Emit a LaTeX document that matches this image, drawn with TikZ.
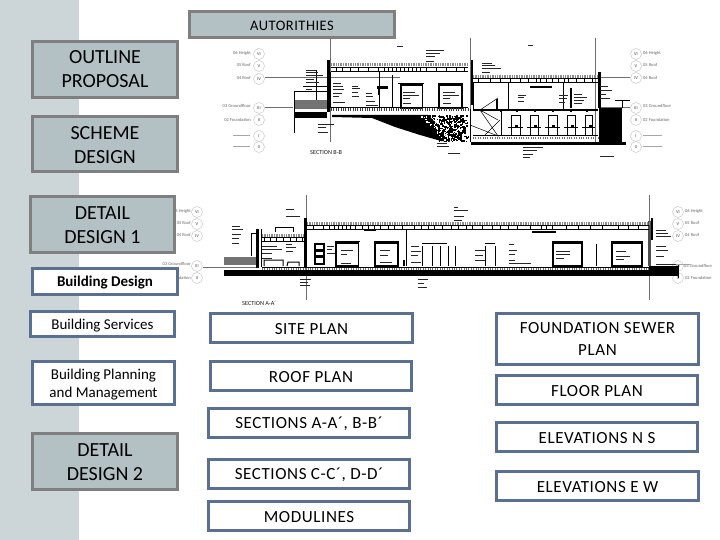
\documentclass[tikz,border=0pt]{standalone}
\usepackage{fontspec}
\setmainfont{Carlito}
\newfontfamily\widefont[LetterSpace=3.5]{Carlito}
\newcommand{\dn}[2][1]{\raisebox{-#1pt}[\height][\depth]{#2}}
\definecolor{strip}{HTML}{CCD5D8}
\definecolor{boxfill}{HTML}{B3C0C4}
\definecolor{boxgray}{HTML}{7F7F7F}
\definecolor{boxblue}{HTML}{5A7090}
\definecolor{axisgray}{HTML}{6E6E6E}
\tikzset{
  graybox/.style={draw=boxgray,line width=3pt,fill=boxfill,align=center,inner sep=0pt,text=black},
  bluebox/.style={draw=boxblue,line width=3pt,fill=white,align=center,inner sep=0pt,text=black},
  big/.style={font=\fontsize{20}{24}\selectfont},
  mid/.style={font=\widefont\fontsize{17}{22}\selectfont},
  small/.style={font=\fontsize{15}{18}\selectfont},
  axis/.style={draw=axisgray,line width=1pt},
  wall/.style={draw=black,line width=1pt},
  thin/.style={draw=black,line width=.5pt},
  note/.style={draw=black!85,line width=.9pt},
  faint/.style={draw=black!35,line width=.5pt},
  bubble/.style={circle,draw=black!22,line width=.5pt,minimum size=11pt,inner sep=0pt,font=\fontsize{4.5}{5}\selectfont,text=black!70},
  tiny/.style={font=\fontsize{4.5}{5}\selectfont,text=black!60,inner sep=0pt,align=center},
  roofhatch/.style={draw=black!45,line width=3pt,dash pattern=on 1pt off .7pt},
  floorhatch/.style={draw=black!75,line width=3pt,dash pattern=on 1pt off 1.4pt},
  secttitle/.style={font=\fontsize{6.2}{7}\selectfont,text=black!90,inner sep=0pt},
}
\begin{document}
\begin{tikzpicture}[x=1pt,y=-1pt]
\useasboundingbox (0,0) rectangle (720,540);
\fill[strip] (0,0) rectangle (79,540);

% ---------- SECTION B-B ----------
\foreach \x/\y/\r in {259/54/VI,259/66/V,259/79/IV,259/108/III,259/120/II,259/136/I,259/147/0,
  636/54/VI,636/66/V,636/78/IV,636/108/III,636/120/II,636/136/I,636/147/0}
  \node[bubble] (b\x\r) at (\x,\y) {\r};
\foreach \y/\t in {53/06 Height,65/05 Roof,78/04 Roof,106/03 Groundfloor,120/02 Foundation}{
  \node[tiny,anchor=east] at (251,\y) {\t};
  \node[tiny,anchor=west] at (643,\y) {\t};}
\foreach \y in {135,146}{
  \draw[faint,line width=.8pt] (233,\y)--(250,\y);
  \draw[faint,line width=.8pt] (643,\y)--(662,\y);}
\draw[axis] (265,78)--(400,78);
\draw[axis] (265,108)--(293,108);
\draw[axis] (598,108)--(630,108);
\draw[axis] (630,78)--(598,78);
\draw[axis] (330,38)--(330,142);
\draw[axis] (470,38)--(470,142);
\draw[axis] (595,38)--(595,142);
% left ground
\fill[black!55] (294,100) rectangle (327,109);
\fill[black] (294,112) rectangle (327,118);
\draw[wall] (294,91)--(294,133);
\draw[thin] (316,70)--(316,100) (303,86)--(327,86) (295,91)--(327,91);
\fill[black] (327,60) rectangle (329.5,112);
% left roof
\draw[roofhatch] (331,65)--(468,65);
\draw[wall] (331,67.5)--(468,67.5) (331,72)--(468,72);
\foreach \x in {336,342,350,358,368,378,384,388,392,396,400,404,408,412,416,420,426,436,446,456,464}
  \draw[wall] (\x,67)--(\x,72);
\draw[thin] (330,72)--(330,108) (379,72)--(379,108) (392,75)--(392,108);
% rooms upper left
\draw[wall,line width=1.2pt] (401,85) rectangle (422.5,108) (439,85) rectangle (462,108);
\draw[thin] (398,83)--(424,83) (438,83)--(463,83);
\draw[wall,line width=2pt] (379,86)--(379,95);
\fill[black] (377,86) rectangle (388,89);
% left floor
\draw[floorhatch] (331,110)--(468,110);
\draw[wall] (331,108)--(468,108);
% wedge and speckle
\fill[black] (332,115)--(428,115)--(433,120)--(440,128)--(450,142)--(441,141)--(420,135)--(395,127)--(372,118)--(332,117)--cycle;
\pgfmathsetseed{7}
\foreach \i in {1,...,420}{
  \pgfmathsetmacro{\py}{115+rnd*26}
  \pgfmathsetmacro{\px}{428+(\py-115)*.6+rnd*(40-(\py-115)*.6)-rnd*6}
  \fill[black] (\px,\py) rectangle +(1.5,1.5);}
\foreach \i in {1,...,60}{
  \pgfmathsetmacro{\py}{115+rnd*27}
  \pgfmathsetmacro{\px}{420+(\py-115)*.9+rnd*16}
  \fill[white] (\px,\py) rectangle +(1.3,1.3);}
\draw[wall] (470,109)--(470,142);
% right part
\fill[black] (470.5,60) rectangle (473,105);
\draw[roofhatch] (473,77)--(598,77);
\draw[wall] (473,79)--(598,79) (473,83)--(598,83);
\foreach \x in {478,490,500,510,520,528,536,540,546,552,558,564,568,576,584,592}
  \draw[wall] (\x,79)--(\x,83);
\draw[thin] (473,83)--(473,110) (508,83)--(508,109) (563,83)--(563,109);
\draw[wall,line width=2pt] (571,88)--(571,108) (497,99)--(497,110);
\fill[black] (530,86) rectangle (552,88);
\fill[black] (598,72) rectangle (600.5,108);
\draw[wall,line width=1.4pt] (473,110)--(598,110);
\foreach \x in {500,516,534,552,570,586}
  \fill[black] (\x,110) rectangle +(2,2);
\draw[thin] (480,110)--(498,98) (480,110)--(498,120) (480,110)--(498,136)--(470,125) (485,135)--(500,120);
% lower rooms
\foreach \a/\b in {511/520,530/538,548/557,567/575,585/592}{
  \draw[wall] (\a,116)--(\a,136)--(\b,136)--(\b,116)--cycle;
  \draw[thin] (\a-3,127)--(\b+3,127);
  \fill[black] (\a+4,125) rectangle +(3,3);}
\draw[thin] (501,112)--(501,136);
\draw[floorhatch,draw=black!55,line width=2pt] (473,138)--(598,138);
\draw[wall,line width=1pt] (473,136)--(598,136);
\fill[black] (471,142) rectangle (626,145.5);
\fill[black] (599,108) rectangle (622,145.5);
\draw[thin] (622,100)--(622,108) (615,100)--(630,100);
% annotation strokes, section B
\foreach \x/\y/\w in {
 306/70/10,306/72/12,306/75/17,306/79/8,306/82/13,306/89/6,
 333/83/8,333/86/10,333/89/11,333/93/9,333/96/6,333/102/12,
 352/86/6,352/88/8,352/92/6,352/96/7,
 366/93/6,366/96/7,366/101/9,366/105/12,
 403/92/12,403/95/16,403/98/7,403/103/8,
 443/92/12,443/95/16,443/98/7,443/103/8,
 426/50/18,426/53/14,426/56/9,426/61/8,
 482/63/10,482/65/13,482/68/19,482/72/8,
 518/95/8,518/97/6,518/101/6,
 559/95/9,559/98/8,559/102/6,
 574/94/8,574/97/13,574/100/10,574/103/8,
 600/86/8,600/90/12,600/94/6,600/98/10,
 318/124/16,318/127/8,318/132/10,
 437/143/10,437/146/12,
 523/147/20,523/150/14,523/154/10,523/157/7,
 448/153/12,600/156/14,
 397/46/6,528/45/5
 }
 \draw[note] (\x,\y)--++(\w,0);
\node[secttitle,anchor=west] (titleB) at (310,153) {SECTION B-B};

% ---------- SECTION A-A ----------
\foreach \x/\y/\r in {197/212/VI,197/224/V,197/236/IV,197/266/III,197/278/II,
  678/212/VI,678/224/V,678/236/IV,678/266/III,678/278/II}
  \node[bubble] (a\x\r) at (\x,\y) {\r};
\foreach \y/\t in {211/06 Height,223/05 Roof,235/04 Roof}{
  \node[tiny,anchor=west] at (685,\y) {\t};}
\node[tiny,anchor=west] at (685,278) {02 Foundation};
\node[tiny,anchor=west] at (684,266) {03 Groundfloor};
\node[tiny,anchor=east] at (191,211) {06 Height};
\node[tiny,anchor=east] at (191,223) {05 Roof};
\node[tiny,anchor=east] at (191,235) {04 Roof};
\node[tiny,anchor=east] at (191,264) {03 Groundfloor};
\node[tiny,anchor=east] at (191,278) {02 Foundation};
\draw[axis] (203,267)--(256,267);
\draw[axis] (306,195)--(306,300);
\draw[axis] (649,195)--(649,300);
\fill[black!55] (224,257) rectangle (256,265);
\fill[black] (224,269.5) rectangle (649,276);
\fill[black] (649,266) rectangle (678,276);
\draw[wall] (678,264)--(678,278);
\draw[faint] (671,264)--(690,264);
% walls
\fill[black] (304,218) rectangle (307,267);
\fill[black] (256,229) rectangle (258.5,268);
\draw[thin] (261,229)--(261,267) (251,233)--(251,256) (251,233)--(256,233);
\fill[black!70] (647.5,221) rectangle (651,266);
\fill[black] (651,218) rectangle (652.5,240);
% roofs
\draw[roofhatch] (262,235)--(304,235);
\draw[wall] (262,237)--(304,237) (262,241)--(304,241);
\foreach \x in {264,270,276,283,290,296,302}
  \draw[wall] (\x,237)--(\x,241);
\draw[thin] (275,227)--(275,232) (275,227)--(293,227)--(293,232);
\draw[roofhatch] (307,224)--(649,224);
\draw[wall] (307,226)--(649,226) (307,229.5)--(649,229.5);
\foreach \x in {313,323,329,334,338,342,346,350,355,362,368,374,380,388,394,402,414,421,428,434,442,451,458,466,472,482,492,500,508,517,530,541,546,552,566,578,590,602,618,628,638}
  \draw[wall] (\x,226)--(\x,229.5);
\fill[black] (532,231) rectangle (556,233);
\fill[black] (364,229) rectangle (376,231.5);
% rooms
\foreach \a/\b in {336/358.7,375/398,553/582,612/642}{
  \draw[wall,line width=1.2pt] (\a,243)--(\a,266)--(\b,266)--(\b,243)--cycle;
  \draw[thin] (\a-1,241)--(\b+1,241);}
\draw[wall,line width=1.2pt] (315,244) rectangle (324,264);
\fill[black] (316,249) rectangle (323,252);
\fill[black] (316,255) rectangle (323,258);
\draw[wall] (264,266)--(264,260)--(283,260)--(283,266) (287,266)--(288,262)--(299,262)--(299,266);
\draw[thin] (406,229.5)--(406,266);
\draw[wall] (422,246)--(422,266) (432,246)--(432,266) (440,246)--(440,266) (448,246)--(448,266) (485,246)--(485,266) (495,246)--(495,266);
\draw[thin] (422,243)--(447,243) (485,243)--(495,243) (455,246)--(455,266) (596,244)--(596,266);
\fill[black] (403,260) rectangle (405,266);
\draw[wall,line width=1pt] (262,267)--(649,267);
\draw[floorhatch,draw=black!55,line width=2pt] (262,269)--(649,269);
% annotations, section A
\foreach \x/\y/\w in {
 232/226/8,232/229/11,232/234/9,232/238/7,232/243/7,
 262/246/15,262/249/20,262/253/10,262/258/10,
 286/244/6,286/247/10,286/251/7,
 286/209/8,286/216/14,
 327/246/7,327/249/5,327/253/8,
 341/250/12,341/254/6,341/263/10,
 380/250/10,380/255/8,380/262/12,
 411/246/8,411/251/10,411/255/7,411/262/10,
 475/250/10,475/255/8,475/260/10,
 509/244/5,509/250/8,509/254/6,509/260/6,509/263/22,
 556/251/14,556/254/14,556/258/8,
 616/251/10,616/256/14,616/259/8,
 454/207/4,454/210/14,454/216/10,454/220/8,
 418/279/10,418/283/6,418/287/9,
 300/279/11,300/282/8,300/285/10,
 656/230/10,656/233/12,656/236/15,
 656/246/10,656/250/12,656/256/8,656/264/20
 }
 \draw[note] (\x,\y)--++(\w,0);
\node[secttitle,anchor=west] (titleA) at (242,303) {SECTION A-A´};

% ---------- BOXES ----------
\node[graybox,font=\widefont\fontsize{14.5}{16}\selectfont,minimum width=205pt,minimum height=26pt] (autor) at (292,24.5) {\dn{AUTORITHIES}};
\node[graybox,big,minimum width=145pt,minimum height=56pt] (outline) at (105,69.5) {OUTLINE\\PROPOSAL};
\node[graybox,big,minimum width=145pt,minimum height=55pt] (scheme) at (105,144) {\dn{SCHEME}\\\dn{DESIGN}};
\node[graybox,big,minimum width=144pt,minimum height=56pt] (dd1) at (102.5,224.5) {\dn{DETAIL}\\\dn{DESIGN 1}};
\node[bluebox,font=\fontsize{15}{18}\bfseries\selectfont,minimum width=145pt,minimum height=26pt] (bdesign) at (105,281.5) {\dn{Building Design}};
\node[bluebox,small,minimum width=144pt,minimum height=25pt] (bserv) at (102.5,324) {\dn[1.5]{Building Services}};
\node[bluebox,small,minimum width=142pt,minimum height=43pt] (bplan) at (103.5,383) {\dn[2]{Building Planning}\\\dn[2]{and Management}};
\node[graybox,big,minimum width=145pt,minimum height=56pt] (dd2) at (105,461.5) {\dn{DETAIL}\\\dn{DESIGN 2}};
\node[bluebox,mid,minimum width=202pt,minimum height=29pt] (site) at (311.5,328) {\dn{SITE PLAN}};
\node[bluebox,mid,minimum width=201pt,minimum height=29pt] (roof) at (311,376) {\dn{ROOF PLAN}};
\node[bluebox,mid,minimum width=201pt,minimum height=29pt] (secab) at (309,423) {\dn{SECTIONS A-A´, B-B´}};
\node[bluebox,mid,minimum width=201pt,minimum height=29pt] (seccd) at (309,474) {\dn{SECTIONS C-C´, D-D´}};
\node[bluebox,mid,minimum width=201pt,minimum height=29pt] (modul) at (309,516) {\dn{MODULINES}};
\node[bluebox,mid,minimum width=202pt,minimum height=51pt] (found) at (597.5,339) {FOUNDATION SEWER\\PLAN};
\node[bluebox,mid,minimum width=201pt,minimum height=29pt] (floorp) at (597,390) {\dn{FLOOR PLAN}};
\node[bluebox,mid,minimum width=201pt,minimum height=29pt] (elns) at (597,437) {\dn{ELEVATIONS N S}};
\node[bluebox,mid,minimum width=202pt,minimum height=29pt] (elew) at (597.5,486) {\dn{ELEVATIONS E W}};
\end{tikzpicture}
\end{document}
